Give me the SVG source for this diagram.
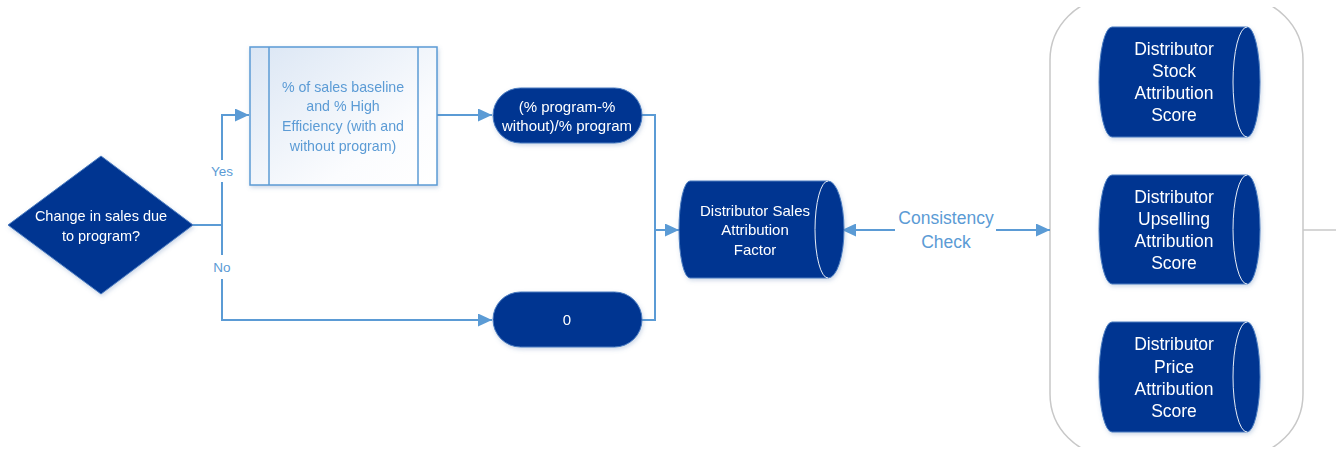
<svg xmlns="http://www.w3.org/2000/svg" width="1336" height="450" viewBox="0 0 1336 450">
  <style>
    .node { fill: #003591; stroke: #4a7cc0; stroke-width: 1; }
    .inner { fill: none; stroke: #e8eef7; stroke-width: 1; }
    .wt { fill: #ffffff; font-family: "Liberation Sans", Arial, sans-serif; text-anchor: middle; }
    .bt { fill: #5b9bd5; font-family: "Liberation Sans", Arial, sans-serif; font-size: 14.2px; text-anchor: middle; }
    .conn { fill: none; stroke: #5b9bd5; stroke-width: 2; }
    .lbl { fill: #5b9bd5; font-family: "Liberation Sans", Arial, sans-serif; text-anchor: middle; }
    .cont { fill: none; stroke: #c8c8c8; stroke-width: 1.5; }
    .s14 { font-size: 14.5px; }
    .s15 { font-size: 15px; }
    .s18 { font-size: 17.5px; }
  </style>
  <defs>
    <marker id="arr" viewBox="0 0 10 10" refX="10" refY="5" markerWidth="7" markerHeight="6.5" orient="auto-start-reverse" markerUnits="strokeWidth" preserveAspectRatio="none">
      <path d="M0,0 L10,5 L0,10 Z" fill="#5b9bd5"/>
    </marker>
    <linearGradient id="boxfill" x1="0" y1="0" x2="1" y2="1">
      <stop offset="0" stop-color="#dbe6f4"/>
      <stop offset="0.7" stop-color="#fbfcfe"/>
      <stop offset="1" stop-color="#ffffff"/>
    </linearGradient>
    <clipPath id="frame">
      <rect x="1040" y="7" width="296" height="440"/>
    </clipPath>
    <filter id="shadow" x="-10%" y="-10%" width="130%" height="130%">
      <feDropShadow dx="1" dy="2" stdDeviation="2" flood-color="#5b7fb0" flood-opacity="0.3"/>
    </filter>
  </defs>

  <rect width="1336" height="450" fill="#ffffff"/>

  <!-- container around the three score stores -->
  <g id="score-container">
    <rect class="cont" x="1050" y="-2" width="253" height="458" rx="62" ry="62" clip-path="url(#frame)"/>
    <line x1="1303" y1="230" x2="1336" y2="230" stroke="#c8c8c8" stroke-width="1.5"/>
  </g>

  <!-- connectors -->
  <g id="connectors">
    <polyline class="conn" points="193,225 222,225"/>
    <polyline class="conn" points="222,160 222,115 249,115" marker-end="url(#arr)"/>
    <polyline class="conn" points="222,182 222,255"/>
    <polyline class="conn" points="222,279 222,320 492,320" marker-end="url(#arr)"/>
    <polyline class="conn" points="437,115 492,115" marker-end="url(#arr)"/>
    <polyline class="conn" points="641,115 655,115 655,320 641,320"/>
    <polyline class="conn" points="655,230 679,230" marker-end="url(#arr)"/>
    <polyline class="conn" points="842,230 895,230" marker-start="url(#arr)"/>
    <polyline class="conn" points="996,230 1050,230" marker-end="url(#arr)"/>
    <text class="lbl" x="222" y="176" font-size="13.5">Yes</text>
    <text class="lbl" x="222" y="272" font-size="13.5">No</text>
    <text class="lbl" x="946" y="224" font-size="17.5">Consistency</text>
    <text class="lbl" x="946" y="248" font-size="17.5">Check</text>
  </g>

  <!-- decision -->
  <g id="decision" filter="url(#shadow)">
    <polygon class="node" points="101,156 193,225 101,294 8,225"/>
    <text class="wt s14" x="101" y="221">Change in sales due</text>
    <text class="wt s14" x="101" y="241">to program?</text>
  </g>

  <!-- predefined process -->
  <g id="baseline-process" filter="url(#shadow)">
    <rect x="250" y="47" width="187" height="138" fill="url(#boxfill)" stroke="#5b9bd5" stroke-width="1.5"/>
    <line x1="269" y1="47" x2="269" y2="185" stroke="#5b9bd5" stroke-width="1.5"/>
    <line x1="418" y1="47" x2="418" y2="185" stroke="#5b9bd5" stroke-width="1.5"/>
    <text class="bt" x="343" y="92">% of sales baseline</text>
    <text class="bt" x="343" y="111">and % High</text>
    <text class="bt" x="343" y="131">Efficiency (with and</text>
    <text class="bt" x="343" y="151">without program)</text>
  </g>

  <!-- ratio terminator -->
  <g id="ratio" filter="url(#shadow)">
    <rect class="node" x="493" y="88" width="149" height="55" rx="27.5" ry="27.5"/>
    <text class="wt s15" x="567" y="112">(% program-%</text>
    <text class="wt s15" x="567" y="131">without)/% program</text>
  </g>

  <!-- zero terminator -->
  <g id="zero" filter="url(#shadow)">
    <rect class="node" x="493" y="292" width="149" height="55" rx="27.5" ry="27.5"/>
    <text class="wt s15" x="567" y="325">0</text>
  </g>

  <!-- sales attribution factor store -->
  <g id="sales-factor" filter="url(#shadow)">
    <path class="node" d="M690,181 L828,181 A16,48.5 0 0 1 828,278 L690,278 A11,48.5 0 0 1 690,181 Z"/>
    <path class="inner" d="M828,181 A13,48.5 0 0 0 828,278"/>
    <text class="wt s15" x="755" y="216">Distributor Sales</text>
    <text class="wt s15" x="755" y="235">Attribution</text>
    <text class="wt s15" x="755" y="255">Factor</text>
  </g>

  <!-- stock score store -->
  <g id="stock-score" filter="url(#shadow)">
    <path class="node" d="M1112,27 L1247,27 A13,55 0 0 1 1247,137 L1112,137 A13,55 0 0 1 1112,27 Z"/>
    <path class="inner" d="M1247,27 A14,55 0 0 0 1247,137"/>
    <text class="wt s18" x="1174" y="55">Distributor</text>
    <text class="wt s18" x="1174" y="77">Stock</text>
    <text class="wt s18" x="1174" y="99">Attribution</text>
    <text class="wt s18" x="1174" y="121">Score</text>
  </g>

  <!-- upselling score store -->
  <g id="upselling-score" filter="url(#shadow)">
    <path class="node" d="M1112,175 L1247,175 A13,54.5 0 0 1 1247,284 L1112,284 A13,54.5 0 0 1 1112,175 Z"/>
    <path class="inner" d="M1247,175 A14,54.5 0 0 0 1247,284"/>
    <text class="wt s18" x="1174" y="203">Distributor</text>
    <text class="wt s18" x="1174" y="225">Upselling</text>
    <text class="wt s18" x="1174" y="247">Attribution</text>
    <text class="wt s18" x="1174" y="269">Score</text>
  </g>

  <!-- price score store -->
  <g id="price-score" filter="url(#shadow)">
    <path class="node" d="M1112,322 L1247,322 A13,55 0 0 1 1247,432 L1112,432 A13,55 0 0 1 1112,322 Z"/>
    <path class="inner" d="M1247,322 A14,55 0 0 0 1247,432"/>
    <text class="wt s18" x="1174" y="350">Distributor</text>
    <text class="wt s18" x="1174" y="373">Price</text>
    <text class="wt s18" x="1174" y="395">Attribution</text>
    <text class="wt s18" x="1174" y="417">Score</text>
  </g>
</svg>
